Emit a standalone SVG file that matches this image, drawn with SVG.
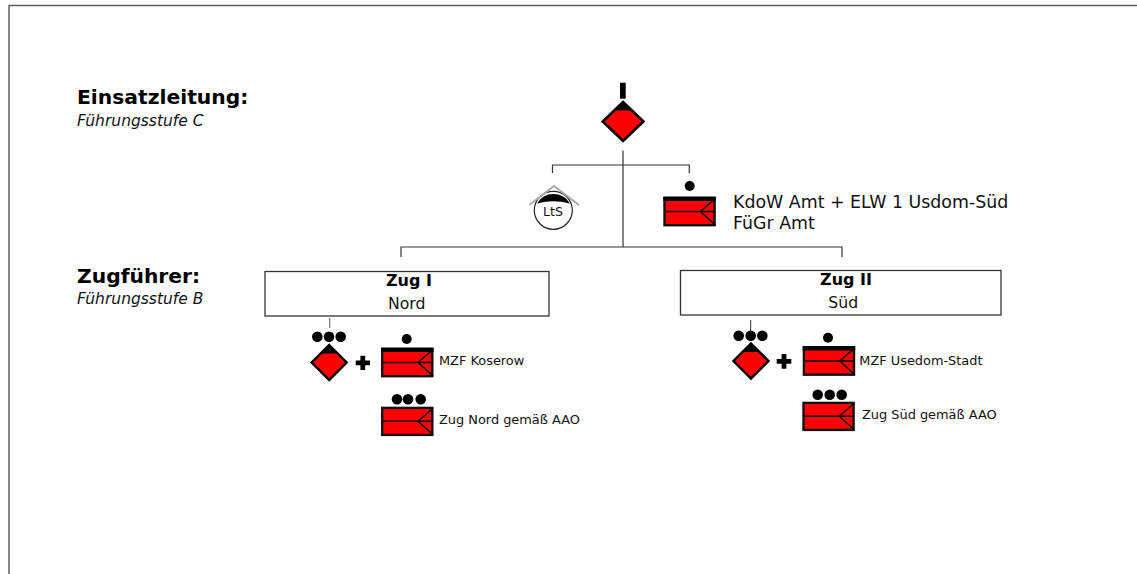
<svg xmlns="http://www.w3.org/2000/svg" width="1137" height="574" viewBox="0 0 1137 574">
<style>
text{font-family:"DejaVu Sans",Verdana,sans-serif;fill:#111}
.h{font-size:20.300px;font-weight:bold;fill:#000}
.i{font-size:15.500px;font-style:italic}
.t{font-size:15.700px;text-anchor:middle}
.tb{font-size:16px;font-weight:bold;text-anchor:middle;fill:#000}
.s{font-size:12.900px}
.l{font-size:17.400px}
.c{fill:none;stroke:#333;stroke-width:1.200}
.box{fill:#fff;stroke:#333;stroke-width:1.300}
.thin{fill:none;stroke:#000;stroke-width:1.400}
.plus{fill:none;stroke:#000;stroke-width:4.800}
</style>
<defs>
<g id="veh">
<rect x="1.200" y="1.200" width="50.100" height="27" fill="#f00" stroke="#111" stroke-width="2.400"/>
<path d="M1 14.500H52M52 1.500 37 14.500 52 28" class="thin"/>
</g>
<rect id="band" width="52.500" height="4.500" fill="#000"/>
<g id="dia">
<path d="M0-17.500 17.500 0 0 17.500-17.500 0Z" fill="#f00" stroke="#000" stroke-width="2.400"/>
<path d="M0-17.500 8.500-9H-8.500Z" fill="#000"/>
</g>
<circle id="d" r="5.300" fill="#000"/>
</defs>
<rect id="frame" x="9" y="5.500" width="1200" height="600" fill="none" stroke="#555" stroke-width="1.400"/>
<g id="labels">
<text class="h" x="77" y="104">Einsatzleitung:</text>
<text class="i" x="77" y="125.500">Führungsstufe C</text>
<text class="h" x="77" y="283">Zugführer:</text>
<text class="i" x="77" y="303.500">Führungsstufe B</text>
</g>
<g id="connectors">
<path class="c" d="M623 150.500V247M552.500 173V165H689.300V173M401 257V247H842V257"/>
<path d="M329.700 318V328" fill="none" stroke="#777" stroke-width="1.200"/>
<path d="M750.700 320V331" fill="none" stroke="#333" stroke-width="1"/>
</g>
<g id="node-main">
<rect x="620" y="82.700" width="5.700" height="16" fill="#000"/>
<path d="M623 102 643.500 121.500 623 141 602.800 121.500Z" fill="#f00" stroke="#000" stroke-width="2.600"/>
<path d="M623 102 632.500 110.500H613.500Z" fill="#000"/>
</g>
<g id="node-lts">
<circle cx="553.300" cy="210.300" r="19" fill="#fff" stroke="#222" stroke-width="1.200"/>
<path d="M537 203.500Q553 199 570 203.500A19 19 0 0 0 537 203.500Z" fill="#000"/>
<path d="M529.300 205 554 186 579 205" fill="none" stroke="#aaa" stroke-width="2"/>
<text x="553" y="216" font-size="12.500" text-anchor="middle">LtS</text>
</g>
<g id="node-kdow">
<circle cx="689.700" cy="186" r="5"/>
<use href="#veh" x="663.300" y="197"/>
<use href="#band" x="663.300" y="196.500"/>
<text class="l" x="733" y="208">KdoW Amt + ELW 1 Usdom-Süd</text>
<text class="l" x="733" y="229">FüGr Amt</text>
</g>
<g id="node-zug1">
<rect class="box" x="265" y="271.500" width="284" height="44.500"/>
<text class="tb" x="409" y="286">Zug I</text>
<text class="t" x="406.700" y="309">Nord</text>
</g>
<g id="node-zug2">
<rect class="box" x="680.500" y="270.500" width="320.500" height="44.500"/>
<text class="tb" x="846" y="284.500">Zug II</text>
<text class="t" x="843.300" y="308">Süd</text>
</g>
<g id="node-nord-zf">
<use href="#d" x="317.300" y="336.700"/><use href="#d" x="329" y="336.700"/><use href="#d" x="340.700" y="336.700"/>
<use href="#dia" x="329.200" y="362.500"/>
</g>
<g id="node-nord-plus"><path class="plus" d="M355.700 362.800H370M362.800 355.700V370"/></g>
<g id="node-mzf-koserow">
<circle cx="406.700" cy="339" r="5"/>
<use href="#veh" x="381" y="348"/>
<use href="#band" x="381" y="347.500"/>
<text class="s" x="439" y="365">MZF Koserow</text>
</g>
<g id="node-zug-nord">
<use href="#d" x="397" y="399.300"/><use href="#d" x="408" y="399.300"/><use href="#d" x="420.700" y="399.300"/>
<use href="#veh" x="381" y="406.700"/>
<text class="s" x="439" y="424">Zug Nord gemäß AAO</text>
</g>
<g id="node-sued-zf">
<use href="#d" x="738.700" y="335.700"/><use href="#d" x="750.700" y="335.700"/><use href="#d" x="762.300" y="335.700"/>
<use href="#dia" x="751" y="361"/>
</g>
<g id="node-sued-plus"><path class="plus" d="M776.700 361.300H791.300M784 354V368.700"/></g>
<g id="node-mzf-usedom">
<circle cx="828" cy="337.700" r="5"/>
<use href="#veh" x="802.700" y="346.500"/>
<use href="#band" x="802.700" y="346"/>
<text class="s" x="859.300" y="365">MZF Usedom-Stadt</text>
</g>
<g id="node-zug-sued">
<use href="#d" x="817.700" y="394.700"/><use href="#d" x="829.700" y="394.700"/><use href="#d" x="841.700" y="394.700"/>
<use href="#veh" x="802.300" y="401.700"/>
<text class="s" x="862" y="419">Zug Süd gemäß AAO</text>
</g>
</svg>
